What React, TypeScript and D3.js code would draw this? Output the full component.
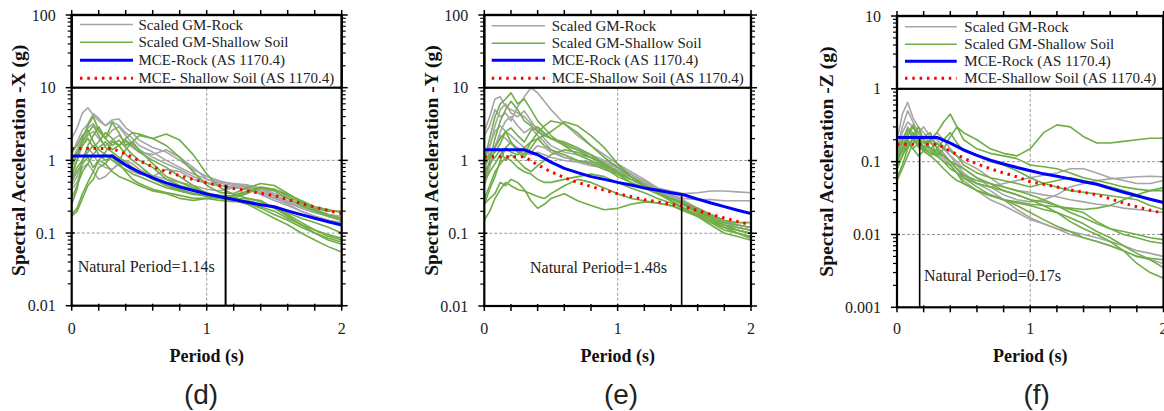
import React from 'react';
import * as d3 from 'd3';

// ---------- DATA ----------
const PERIODS = [0, 0.04, 0.08, 0.12, 0.16, 0.2, 0.25, 0.3, 0.35, 0.4, 0.45, 0.5, 0.6, 0.7, 0.8, 0.9, 1.0, 1.1, 1.2, 1.3, 1.4, 1.5, 1.6, 1.7, 1.8, 1.9, 2.0];
const MCE_PERIODS = [0, 0.1, 0.2, 0.3, 0.4, 0.5, 0.6, 0.7, 0.8, 0.9, 1.0, 1.1, 1.2, 1.3, 1.4, 1.5, 1.6, 1.7, 1.8, 1.9, 2.0];

const X_TICKS = [0, 1, 2];
const X_MINOR_TICKS = [0, 0.2, 0.4, 0.6, 0.8, 1, 1.2, 1.4, 1.6, 1.8, 2];

const Y_TICKS_XY = [0.01, 0.1, 1, 10, 100];
const Y_TICK_LABELS_XY = ['0.01', '0.1', '1', '10', '100'];
const Y_TICKS_Z = [0.001, 0.01, 0.1, 1, 10];
const Y_TICK_LABELS_Z = ['0.001', '0.01', '0.1', '1', '10'];

const LEGEND_LABELS_D = ['Scaled GM-Rock', 'Scaled GM-Shallow Soil', 'MCE-Rock (AS 1170.4)', 'MCE- Shallow Soil (AS 1170.4)'];
const LEGEND_LABELS_EF = ['Scaled GM-Rock', 'Scaled GM-Shallow Soil', 'MCE-Rock (AS 1170.4)', 'MCE-Shallow Soil (AS 1170.4)'];

// Direction X (d)
const ROCK_GM_X = [
  [2.0, 2.8, 4.5, 5.3, 4.2, 3.5, 3.0, 3.4, 3.0, 2.4, 2.0, 1.6, 1.3, 1.0, 0.8, 0.65, 0.55, 0.48, 0.45, 0.42, 0.36, 0.3, 0.26, 0.22, 0.19, 0.17, 0.15],
  [1.2, 1.8, 2.6, 3.2, 4.4, 3.8, 3.0, 3.6, 3.7, 2.8, 2.4, 1.9, 1.5, 1.3, 1.0, 0.75, 0.6, 0.52, 0.47, 0.44, 0.38, 0.32, 0.27, 0.23, 0.2, 0.18, 0.16],
  [0.7, 1.0, 1.6, 2.2, 2.5, 2.0, 1.6, 1.9, 2.2, 1.8, 1.5, 1.3, 1.2, 1.4, 1.1, 0.8, 0.55, 0.5, 0.48, 0.46, 0.4, 0.33, 0.28, 0.25, 0.21, 0.18, 0.17],
  [0.45, 0.6, 1.0, 1.5, 1.2, 0.9, 0.8, 0.75, 0.9, 0.85, 0.7, 0.65, 0.6, 0.75, 0.7, 0.55, 0.48, 0.44, 0.43, 0.4, 0.35, 0.3, 0.25, 0.2, 0.17, 0.15, 0.13],
  [0.4, 0.5, 0.8, 0.9, 0.7, 0.55, 0.6, 0.75, 0.9, 1.0, 0.9, 0.75, 0.62, 0.55, 0.5, 0.45, 0.4, 0.38, 0.42, 0.45, 0.42, 0.35, 0.3, 0.24, 0.2, 0.17, 0.15],
  [1.0, 1.4, 2.0, 2.8, 3.2, 2.5, 2.0, 2.6, 2.9, 2.2, 1.7, 1.4, 1.1, 0.9, 0.75, 0.6, 0.5, 0.45, 0.42, 0.4, 0.34, 0.28, 0.24, 0.2, 0.17, 0.15, 0.14],
];
const SOIL_GM_X = [
  [0.6, 1.0, 2.0, 3.0, 4.0, 2.6, 2.0, 1.6, 1.9, 1.5, 1.2, 1.0, 0.8, 0.55, 0.45, 0.4, 0.35, 0.33, 0.32, 0.36, 0.42, 0.38, 0.3, 0.24, 0.2, 0.17, 0.15],
  [0.25, 0.4, 1.0, 1.6, 2.2, 2.9, 2.0, 3.3, 2.4, 1.6, 1.8, 1.4, 0.9, 0.6, 0.5, 0.42, 0.36, 0.3, 0.3, 0.35, 0.42, 0.4, 0.32, 0.26, 0.21, 0.18, 0.16],
  [0.18, 0.22, 0.35, 0.5, 0.7, 1.0, 1.3, 1.8, 1.6, 2.0, 2.4, 2.3, 2.0, 1.6, 1.1, 0.7, 0.45, 0.36, 0.35, 0.42, 0.48, 0.45, 0.35, 0.27, 0.22, 0.2, 0.2],
  [0.17, 0.2, 0.3, 0.45, 0.55, 0.8, 0.9, 1.2, 1.0, 1.4, 1.8, 2.2, 2.0, 2.3, 1.9, 1.2, 0.65, 0.42, 0.34, 0.3, 0.28, 0.22, 0.17, 0.13, 0.1, 0.085, 0.075],
  [0.8, 1.2, 1.6, 2.0, 1.5, 1.8, 2.4, 2.0, 1.6, 1.2, 1.0, 0.85, 0.6, 0.45, 0.4, 0.35, 0.32, 0.3, 0.29, 0.3, 0.27, 0.22, 0.18, 0.14, 0.11, 0.09, 0.08],
  [0.5, 0.7, 0.9, 1.1, 0.8, 1.0, 0.9, 0.7, 0.6, 0.55, 0.5, 0.45, 0.38, 0.35, 0.3, 0.28, 0.3, 0.31, 0.3, 0.26, 0.22, 0.18, 0.15, 0.12, 0.1, 0.08, 0.07],
  [1.3, 1.6, 2.2, 2.6, 1.8, 1.4, 1.2, 1.0, 0.85, 0.75, 0.65, 0.6, 0.5, 0.42, 0.38, 0.35, 0.32, 0.3, 0.28, 0.25, 0.2, 0.16, 0.13, 0.1, 0.08, 0.065, 0.055],
  [0.3, 0.45, 0.7, 0.9, 1.2, 1.5, 1.8, 1.4, 1.6, 1.9, 1.6, 1.3, 1.0, 0.8, 0.6, 0.45, 0.35, 0.3, 0.28, 0.26, 0.23, 0.2, 0.16, 0.13, 0.11, 0.095, 0.085],
  [0.55, 0.8, 1.0, 1.3, 1.6, 1.2, 1.0, 1.1, 0.9, 0.7, 0.55, 0.48, 0.4, 0.36, 0.33, 0.3, 0.3, 0.28, 0.27, 0.28, 0.25, 0.22, 0.19, 0.16, 0.14, 0.12, 0.1],
  [0.9, 1.3, 1.8, 2.4, 3.0, 2.2, 1.5, 1.3, 1.1, 0.95, 0.8, 0.7, 0.55, 0.45, 0.38, 0.34, 0.33, 0.32, 0.33, 0.38, 0.43, 0.4, 0.34, 0.28, 0.23, 0.21, 0.19],
];
const MCE_ROCK_X = [1.15, 1.15, 1.15, 1.15, 0.86, 0.69, 0.575, 0.49, 0.43, 0.385, 0.345, 0.315, 0.29, 0.265, 0.245, 0.23, 0.202, 0.179, 0.16, 0.143, 0.129];
const MCE_SOIL_X = [1.45, 1.45, 1.45, 1.45, 1.23, 0.985, 0.82, 0.70, 0.615, 0.547, 0.49, 0.448, 0.41, 0.38, 0.352, 0.328, 0.29, 0.255, 0.228, 0.204, 0.185];

// Direction Y (e)
const ROCK_GM_Y = [
  [2.2, 3.0, 5.0, 4.0, 4.5, 3.5, 5.5, 7.5, 10, 8.5, 6.5, 5.0, 3.2, 2.2, 1.6, 1.2, 0.9, 0.7, 0.55, 0.42, 0.38, 0.35, 0.36, 0.38, 0.38, 0.37, 0.36],
  [2.5, 4.0, 7.0, 7.5, 5.5, 5.0, 4.5, 4.0, 3.2, 2.8, 2.3, 2.0, 1.6, 1.4, 1.2, 1.0, 0.85, 0.65, 0.5, 0.4, 0.33, 0.3, 0.29, 0.29, 0.28, 0.28, 0.28],
  [0.6, 1.5, 3.0, 5.0, 6.0, 4.5, 4.0, 4.8, 3.5, 2.6, 2.0, 1.6, 1.3, 1.2, 1.1, 0.95, 0.8, 0.65, 0.52, 0.42, 0.34, 0.28, 0.22, 0.18, 0.15, 0.13, 0.12],
  [0.45, 0.8, 1.5, 2.5, 3.5, 4.0, 3.0, 2.4, 2.8, 2.2, 1.8, 1.4, 1.1, 1.0, 0.9, 0.85, 0.75, 0.6, 0.48, 0.4, 0.33, 0.27, 0.22, 0.18, 0.15, 0.13, 0.12],
  [1.0, 1.6, 2.5, 3.0, 2.5, 2.2, 1.8, 1.5, 1.3, 1.6, 1.5, 1.3, 1.1, 1.0, 0.95, 0.9, 0.8, 0.65, 0.5, 0.4, 0.32, 0.26, 0.21, 0.17, 0.14, 0.12, 0.11],
  [0.9, 1.2, 1.6, 2.2, 2.0, 1.7, 1.5, 1.3, 1.2, 1.3, 1.2, 1.1, 1.0, 0.95, 0.85, 0.8, 0.7, 0.6, 0.48, 0.38, 0.3, 0.25, 0.2, 0.16, 0.14, 0.12, 0.11],
];
const SOIL_GM_Y = [
  [1.0, 2.0, 4.0, 6.0, 7.0, 8.5, 6.0, 7.0, 5.0, 3.5, 2.8, 2.2, 1.6, 1.2, 1.0, 0.8, 0.6, 0.5, 0.42, 0.35, 0.3, 0.25, 0.2, 0.16, 0.13, 0.11, 0.1],
  [0.5, 1.0, 2.0, 3.5, 5.0, 6.5, 5.0, 3.5, 3.0, 2.5, 2.2, 2.0, 1.8, 1.5, 1.2, 0.9, 0.7, 0.55, 0.45, 0.36, 0.3, 0.24, 0.19, 0.15, 0.12, 0.1, 0.09],
  [0.9, 1.1, 1.3, 1.7, 2.5, 1.8, 1.4, 1.2, 1.8, 2.4, 3.0, 3.5, 3.2, 2.4, 1.6, 1.1, 0.8, 0.6, 0.46, 0.36, 0.28, 0.22, 0.17, 0.14, 0.11, 0.1, 0.09],
  [0.25, 0.4, 0.6, 1.0, 1.5, 1.3, 1.2, 1.5, 1.8, 2.0, 2.2, 2.5, 3.4, 3.0, 2.2, 1.5, 0.9, 0.6, 0.45, 0.35, 0.28, 0.22, 0.17, 0.13, 0.1, 0.09, 0.08],
  [0.15, 0.2, 0.3, 0.4, 0.5, 0.45, 0.4, 0.38, 0.35, 0.32, 0.3, 0.35, 0.45, 0.55, 0.5, 0.42, 0.35, 0.3, 0.28, 0.26, 0.24, 0.2, 0.17, 0.14, 0.12, 0.11, 0.1],
  [0.25, 0.3, 0.35, 0.5, 0.45, 0.55, 0.5, 0.4, 0.28, 0.22, 0.25, 0.3, 0.35, 0.28, 0.24, 0.21, 0.22, 0.25, 0.27, 0.26, 0.24, 0.21, 0.18, 0.15, 0.13, 0.11, 0.1],
  [0.5, 0.7, 0.9, 1.2, 1.5, 1.8, 1.3, 1.1, 1.5, 2.0, 1.6, 1.4, 1.2, 1.0, 0.9, 0.75, 0.65, 0.55, 0.45, 0.37, 0.3, 0.25, 0.2, 0.16, 0.13, 0.12, 0.11],
  [1.0, 1.2, 1.5, 2.0, 2.5, 2.8, 2.2, 1.8, 2.6, 2.9, 2.4, 2.0, 1.7, 1.4, 1.1, 0.9, 0.7, 0.55, 0.45, 0.36, 0.3, 0.25, 0.2, 0.17, 0.14, 0.13, 0.12],
  [0.3, 0.45, 0.7, 0.9, 1.1, 1.0, 0.8, 0.7, 0.65, 0.55, 0.5, 0.5, 0.55, 0.6, 0.65, 0.6, 0.5, 0.42, 0.36, 0.3, 0.26, 0.22, 0.18, 0.15, 0.12, 0.1, 0.085],
  [0.7, 0.9, 1.1, 1.4, 1.0, 1.2, 1.0, 0.8, 0.7, 0.85, 1.0, 1.2, 1.4, 1.3, 1.1, 0.85, 0.65, 0.5, 0.42, 0.35, 0.3, 0.26, 0.22, 0.18, 0.15, 0.14, 0.14],
];
const MCE_ROCK_Y = [1.4, 1.4, 1.4, 1.4, 1.2, 0.95, 0.78, 0.68, 0.6, 0.55, 0.5, 0.46, 0.42, 0.39, 0.36, 0.335, 0.295, 0.26, 0.232, 0.207, 0.186];
const MCE_SOIL_Y = [1.13, 1.13, 1.13, 1.13, 0.87, 0.7, 0.58, 0.5, 0.44, 0.39, 0.35, 0.32, 0.29, 0.27, 0.25, 0.233, 0.205, 0.182, 0.162, 0.145, 0.131];

// Direction Z (f)
const ROCK_GM_Z = [
  [0.2, 0.45, 0.65, 0.4, 0.3, 0.25, 0.2, 0.18, 0.15, 0.12, 0.1, 0.08, 0.06, 0.045, 0.035, 0.03, 0.028, 0.03, 0.035, 0.045, 0.05, 0.055, 0.058, 0.06, 0.062, 0.063, 0.062],
  [0.15, 0.3, 0.5, 0.35, 0.25, 0.3, 0.22, 0.2, 0.16, 0.12, 0.09, 0.07, 0.05, 0.04, 0.03, 0.022, 0.017, 0.014, 0.012, 0.01, 0.009, 0.008, 0.007, 0.006, 0.005, 0.0045, 0.004],
  [0.12, 0.2, 0.28, 0.25, 0.2, 0.22, 0.18, 0.16, 0.13, 0.1, 0.08, 0.065, 0.05, 0.045, 0.05, 0.055, 0.06, 0.065, 0.07, 0.08, 0.08, 0.07, 0.06, 0.055, 0.05, 0.05, 0.055],
  [0.1, 0.18, 0.3, 0.22, 0.18, 0.16, 0.2, 0.25, 0.2, 0.15, 0.12, 0.1, 0.08, 0.06, 0.045, 0.04, 0.038, 0.035, 0.033, 0.03, 0.028, 0.026, 0.025, 0.023, 0.022, 0.021, 0.02],
  [0.13, 0.25, 0.35, 0.3, 0.22, 0.18, 0.15, 0.13, 0.11, 0.09, 0.07, 0.055, 0.04, 0.03, 0.025, 0.02, 0.016, 0.014, 0.012, 0.011, 0.01, 0.009, 0.008, 0.007, 0.006, 0.0055, 0.005],
];
const SOIL_GM_Z = [
  [0.08, 0.12, 0.2, 0.25, 0.2, 0.18, 0.2, 0.25, 0.35, 0.45, 0.3, 0.25, 0.2, 0.15, 0.13, 0.12, 0.15, 0.25, 0.32, 0.3, 0.22, 0.18, 0.18, 0.19, 0.2, 0.21, 0.21],
  [0.06, 0.09, 0.15, 0.22, 0.3, 0.2, 0.15, 0.18, 0.15, 0.22, 0.3, 0.2, 0.15, 0.13, 0.12, 0.11, 0.09, 0.085, 0.08, 0.07, 0.06, 0.055, 0.05, 0.045, 0.042, 0.04, 0.04],
  [0.1, 0.15, 0.25, 0.32, 0.2, 0.16, 0.15, 0.14, 0.12, 0.1, 0.09, 0.08, 0.06, 0.05, 0.04, 0.035, 0.03, 0.025, 0.02, 0.015, 0.012, 0.01, 0.008, 0.006, 0.004, 0.003, 0.0025],
  [0.055, 0.08, 0.12, 0.18, 0.2, 0.15, 0.13, 0.12, 0.1, 0.08, 0.07, 0.06, 0.05, 0.045, 0.04, 0.035, 0.03, 0.028, 0.025, 0.022, 0.02, 0.015, 0.012, 0.01, 0.009, 0.008, 0.0075],
  [0.12, 0.18, 0.2, 0.15, 0.18, 0.22, 0.25, 0.15, 0.12, 0.1, 0.08, 0.065, 0.055, 0.05, 0.045, 0.04, 0.035, 0.03, 0.025, 0.02, 0.017, 0.014, 0.012, 0.011, 0.01, 0.009, 0.0085],
  [0.08, 0.12, 0.18, 0.15, 0.12, 0.14, 0.2, 0.12, 0.1, 0.09, 0.07, 0.05, 0.04, 0.035, 0.03, 0.025, 0.02, 0.016, 0.013, 0.011, 0.009, 0.008, 0.007, 0.006, 0.005, 0.0047, 0.0045],
  [0.15, 0.2, 0.28, 0.22, 0.16, 0.14, 0.12, 0.15, 0.2, 0.25, 0.18, 0.14, 0.12, 0.1, 0.09, 0.075, 0.06, 0.05, 0.045, 0.04, 0.038, 0.036, 0.034, 0.032, 0.03, 0.025, 0.022],
  [0.1, 0.14, 0.22, 0.3, 0.25, 0.2, 0.15, 0.13, 0.12, 0.1, 0.08, 0.06, 0.045, 0.035, 0.03, 0.028, 0.026, 0.025, 0.024, 0.023, 0.022, 0.023, 0.025, 0.03, 0.035, 0.04, 0.044],
  [0.09, 0.12, 0.16, 0.2, 0.17, 0.14, 0.12, 0.1, 0.08, 0.065, 0.055, 0.05, 0.04, 0.034, 0.03, 0.027, 0.025, 0.022, 0.02, 0.017, 0.014, 0.011, 0.009, 0.007, 0.0055, 0.0045, 0.0035],
  [0.11, 0.15, 0.18, 0.2, 0.17, 0.15, 0.14, 0.12, 0.15, 0.14, 0.12, 0.09, 0.07, 0.06, 0.055, 0.05, 0.045, 0.05, 0.055, 0.06, 0.055, 0.05, 0.045, 0.04, 0.035, 0.03, 0.027],
];
const MCE_ROCK_Z = [0.215, 0.215, 0.215, 0.215, 0.18, 0.145, 0.122, 0.105, 0.093, 0.083, 0.075, 0.068, 0.063, 0.058, 0.053, 0.049, 0.043, 0.038, 0.034, 0.0305, 0.0275];
const MCE_SOIL_Z = [0.174, 0.174, 0.174, 0.174, 0.14, 0.112, 0.093, 0.08, 0.07, 0.062, 0.053, 0.049, 0.045, 0.041, 0.038, 0.035, 0.031, 0.027, 0.024, 0.0215, 0.0195];

const NATURAL_PERIODS = [1.14, 1.48, 0.17];
const NATURAL_TOPS = [0.46, 0.34, 0.21];

// ---------- LAYOUT ----------
const SERIF = "'Liberation Serif', 'Times New Roman', serif";
const SANS = "'Liberation Sans', 'Open Sans', sans-serif";
const GRAY = '#a6a6a6';
const GREEN = '#70ad47';

const PANELS = [
  {
    left: 71.7, right: 341.7, top: 15, bottom: 305.7, yTicks: Y_TICKS_XY, yTickLabels: Y_TICK_LABELS_XY,
    legendBottom: 10, yLabel: 'Spectral Acceleration -X (g)', yLabelX: 18,
    rock: ROCK_GM_X, soil: SOIL_GM_X, mceRock: MCE_ROCK_X, mceSoil: MCE_SOIL_X,
    tn: NATURAL_PERIODS[0], tnTop: NATURAL_TOPS[0], tnWidth: 2, npText: 'Natural Period=1.14s', npX: 77.7, npY: 272,
    legendLabels: LEGEND_LABELS_D, lgX0: 80, lgX1: 133, lgTextX: 138.5, lgRows: [24.5, 42.3, 60.3, 78.3],
    letter: '(d)', letterX: 201,
  },
  {
    left: 484.3, right: 751, top: 15, bottom: 306, yTicks: Y_TICKS_XY, yTickLabels: Y_TICK_LABELS_XY,
    legendBottom: 10, yLabel: 'Spectral Acceleration -Y (g)', yLabelX: 431.7,
    rock: ROCK_GM_Y, soil: SOIL_GM_Y, mceRock: MCE_ROCK_Y, mceSoil: MCE_SOIL_Y,
    tn: NATURAL_PERIODS[1], tnTop: NATURAL_TOPS[1], tnWidth: 1.6, npText: 'Natural Period=1.48s', npX: 530, npY: 272.5,
    legendLabels: LEGEND_LABELS_EF, lgX0: 491.7, lgX1: 545, lgTextX: 551.7, lgRows: [25.7, 43.3, 60.3, 78.3],
    letter: '(e)', letterX: 621,
  },
  {
    left: 897, right: 1163.5, top: 16, bottom: 307.3, yTicks: Y_TICKS_Z, yTickLabels: Y_TICK_LABELS_Z,
    legendBottom: 1, yLabel: 'Spectral Acceleration -Z (g)', yLabelX: 826.7,
    rock: ROCK_GM_Z, soil: SOIL_GM_Z, mceRock: MCE_ROCK_Z, mceSoil: MCE_SOIL_Z,
    tn: NATURAL_PERIODS[2], tnTop: NATURAL_TOPS[2], tnWidth: 1.6, npText: 'Natural Period=0.17s', npX: 924, npY: 281,
    legendLabels: LEGEND_LABELS_EF, lgX0: 905, lgX1: 956.7, lgTextX: 964.3, lgRows: [26.7, 44.3, 61.3, 78.3],
    letter: '(f)', letterX: 1036.7,
  },
];

function Panel({ p, idx }: { p: any; idx: number }) {
  const x = d3.scaleLinear().domain([0, 2]).range([p.left, p.right]);
  const yMin = p.yTicks[0];
  const yMax = p.yTicks[p.yTicks.length - 1];
  const y = d3.scaleLog().domain([yMin, yMax]).range([p.bottom, p.top]);
  const lineGM = d3.line<number>().x((_, i) => x(PERIODS[i])).y((v) => y(v));
  const lineMCE = d3.line<number>().x((_, i) => x(MCE_PERIODS[i])).y((v) => y(v));
  const yLegendBottom = y(p.legendBottom);
  const minorY = y.ticks().filter((t) => !p.yTicks.some((m: number) => Math.abs(m - t) < 1e-12));
  const gridY = p.yTicks.filter((t: number) => t < p.legendBottom && t > yMin);
  const clipId = `clip-${idx}`;
  const cy = (p.top + p.bottom) / 2;
  const cx = (p.left + p.right) / 2;
  return (
    <g>
      <defs>
        <clipPath id={clipId}>
          <rect x={p.left} y={yLegendBottom} width={p.right - p.left} height={p.bottom - yLegendBottom} />
        </clipPath>
      </defs>
      {gridY.map((t: number) => (
        <line key={`gy${t}`} x1={p.left} x2={p.right} y1={y(t)} y2={y(t)} stroke="#9a9a9a" strokeWidth={1} strokeDasharray="3,2" />
      ))}
      <line x1={x(1)} x2={x(1)} y1={yLegendBottom} y2={p.bottom} stroke="#9a9a9a" strokeWidth={1} strokeDasharray="3,2" />
      <g clipPath={`url(#${clipId})`} fill="none">
        {p.rock.map((s: number[], i: number) => (
          <path key={`r${i}`} d={lineGM(s) || ''} stroke={GRAY} strokeWidth={1.6} strokeLinejoin="round" />
        ))}
        {p.soil.map((s: number[], i: number) => (
          <path key={`s${i}`} d={lineGM(s) || ''} stroke={GREEN} strokeWidth={1.6} strokeLinejoin="round" />
        ))}
        <path d={lineMCE(p.mceRock) || ''} stroke="#0000ff" strokeWidth={3} strokeLinejoin="round" />
        <path d={lineMCE(p.mceSoil) || ''} stroke="#ff0000" strokeWidth={3} strokeDasharray="2.5,4.8" />
      </g>
      <line x1={x(p.tn)} x2={x(p.tn)} y1={p.bottom} y2={y(p.tnTop)} stroke="#000" strokeWidth={p.tnWidth} />
      <text x={p.npX} y={p.npY} fontFamily={SERIF} fontSize={16} fill="#222">{p.npText}</text>
      <rect x={p.left} y={p.top} width={p.right - p.left} height={yLegendBottom - p.top} fill="#fff" stroke="#000" strokeWidth={2.2} />
      {[GRAY, GREEN, '#0000ff', '#ff0000'].map((c, i) => (
        <g key={`lg${i}`}>
          <line x1={p.lgX0} x2={p.lgX1} y1={p.lgRows[i]} y2={p.lgRows[i]} stroke={c}
            strokeWidth={i < 2 ? 1.6 : 3} strokeDasharray={i === 3 ? '2.5,4.8' : undefined} />
          <text x={p.lgTextX} y={p.lgRows[i]} dominantBaseline="central" fontFamily={SERIF} fontSize={15} fill="#222">
            {p.legendLabels[i]}
          </text>
        </g>
      ))}
      <rect x={p.left} y={p.top} width={p.right - p.left} height={p.bottom - p.top} fill="none" stroke="#000" strokeWidth={2.2} />
      {X_MINOR_TICKS.map((t) => (
        <g key={`xt${t}`}>
          <line x1={x(t)} x2={x(t)} y1={p.bottom - 2} y2={p.bottom + 5} stroke="#000" strokeWidth={1.5} />
          <line x1={x(t)} x2={x(t)} y1={p.top} y2={p.top - 5} stroke="#000" strokeWidth={1.5} />
        </g>
      ))}
      {X_TICKS.map((t) => (
        <text key={`xl${t}`} x={x(t)} y={333.5} textAnchor="middle" fontFamily={SERIF} fontSize={16} fill="#222">{t}</text>
      ))}
      {p.yTicks.map((t: number, i: number) => (
        <g key={`yt${t}`}>
          <line x1={p.left - 6} x2={p.left + 3} y1={y(t)} y2={y(t)} stroke="#000" strokeWidth={1.5} />
          <line x1={p.right - 3} x2={p.right + 6} y1={y(t)} y2={y(t)} stroke="#000" strokeWidth={1.5} />
          <text x={p.left - 16} y={y(t)} dominantBaseline="central" textAnchor="end" fontFamily={SERIF} fontSize={16} fill="#222">
            {p.yTickLabels[i]}
          </text>
        </g>
      ))}
      {minorY.map((t: number) => (
        <g key={`ym${t}`}>
          <line x1={p.left - 4} x2={p.left} y1={y(t)} y2={y(t)} stroke="#000" strokeWidth={1.2} />
          <line x1={p.right} x2={p.right + 4} y1={y(t)} y2={y(t)} stroke="#000" strokeWidth={1.2} />
        </g>
      ))}
      <text x={cx} y={362} textAnchor="middle" fontFamily={SERIF} fontWeight="bold" fontSize={18} fill="#111">Period (s)</text>
      <text transform={`translate(${p.yLabelX},${cy}) rotate(-90)`} textAnchor="middle" dominantBaseline="central"
        fontFamily={SERIF} fontWeight="bold" fontSize={19.5} fill="#111">{p.yLabel}</text>
      <text x={p.letterX} y={404} textAnchor="middle" fontFamily={SANS} fontSize={28} fill="#222">{p.letter}</text>
    </g>
  );
}

export default function App() {
  return (
    <svg width={1164} height={411} viewBox="0 0 1164 411"
      style={{ position: 'absolute', left: 0, top: 0, background: '#fff', display: 'block' }}>
      <rect width={1164} height={411} fill="#fff" />
      {PANELS.map((p, i) => <Panel key={i} p={p} idx={i} />)}
    </svg>
  );
}
